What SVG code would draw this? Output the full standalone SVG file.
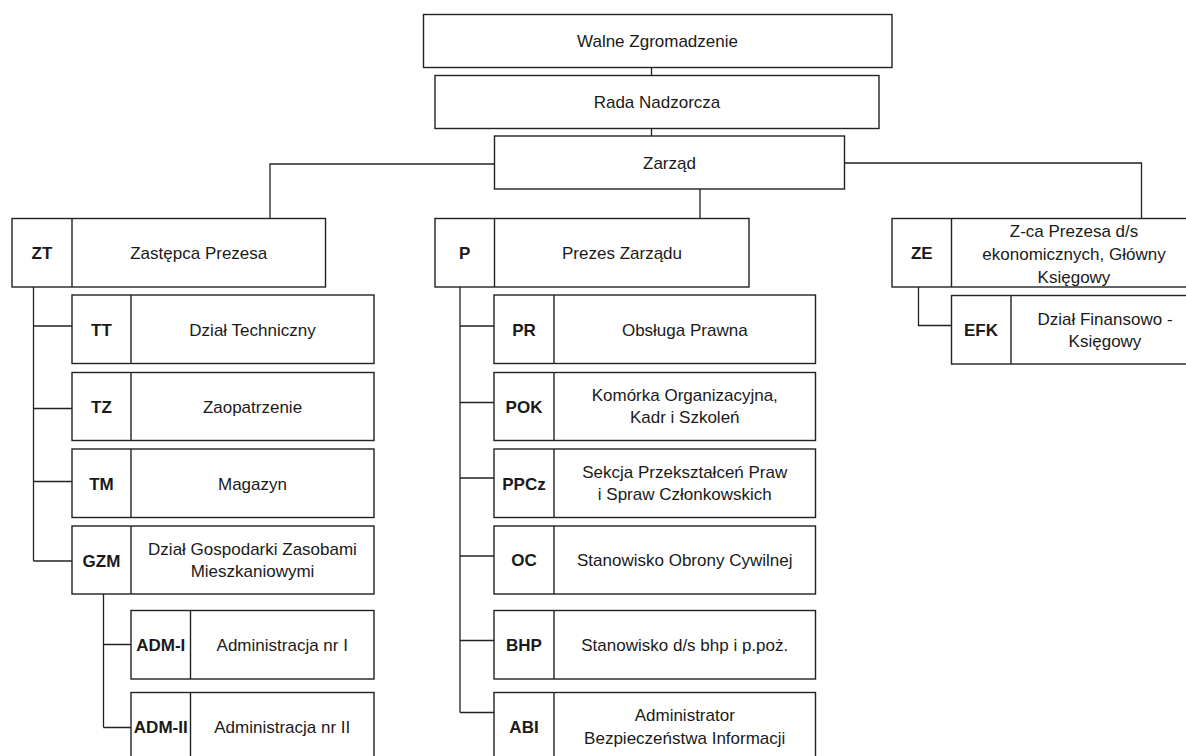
<svg xmlns="http://www.w3.org/2000/svg" width="1186" height="756" viewBox="0 0 1186 756">
<style>
.b{fill:#fff;stroke:#222;stroke-width:1.4}
.d{stroke:#222;stroke-width:1.4}
.c{fill:none;stroke:#222;stroke-width:1.3}
text{font-family:"Liberation Sans",Arial,sans-serif;font-size:17px;fill:#1a1a1a;text-anchor:middle}
.k{font-weight:bold}
</style>
<rect width="1186" height="756" fill="#fff"/>
<g id="connectors">
<path class="c" d="M651.5 67.5V75.5M651.5 128.5V136"/>
<path class="c" d="M494.5 164H270V218.5"/>
<path class="c" d="M700 189V218.5"/>
<path class="c" d="M844.5 163H1141.5V218.5"/>
<path class="c" d="M33.5 287V561M33.5 326H72M33.5 408.5H72M33.5 481.5H72M33.5 561H72"/>
<path class="c" d="M103.5 594V727.5M103.5 644.5H131M103.5 727.5H131"/>
<path class="c" d="M460 287V712.5M460 326H494M460 402.5H494M460 478H494M460 556H494M460 640.5H494M460 712.5H494"/>
<path class="c" d="M918.5 287V325.5H951.5"/>
</g>
<g id="walne"><rect class="b" x="423.5" y="14.5" width="468.5" height="53"/><text x="657.5" y="47">Walne Zgromadzenie</text></g>
<g id="rada"><rect class="b" x="435" y="75.5" width="444" height="53"/><text x="657" y="108">Rada Nadzorcza</text></g>
<g id="zarzad"><rect class="b" x="494.5" y="136" width="350" height="53"/><text x="669.5" y="168.5">Zarząd</text></g>
<g id="ZT"><rect class="b" x="12" y="218.5" width="313.5" height="68.5"/><line class="d" x1="72" y1="218.5" x2="72" y2="287"/><text class="k" x="42" y="259">ZT</text><text x="198.75" y="259">Zastępca Prezesa</text></g>
<g id="P"><rect class="b" x="435" y="218.5" width="314" height="68.5"/><line class="d" x1="494.5" y1="218.5" x2="494.5" y2="287"/><text class="k" x="464.75" y="259">P</text><text x="622" y="259">Prezes Zarządu</text></g>
<g id="ZE"><rect class="b" x="892" y="218.5" width="305" height="68.5"/><line class="d" x1="951.5" y1="218.5" x2="951.5" y2="287"/><text class="k" x="921.75" y="259">ZE</text><text x="1074" y="237">Z-ca Prezesa d/s</text><text x="1074" y="260">ekonomicznych, Główny</text><text x="1074" y="283">Księgowy</text></g>
<g id="TT"><rect class="b" x="72" y="295" width="302" height="68.5"/><line class="d" x1="131" y1="295" x2="131" y2="363.5"/><text class="k" x="101.5" y="335.5">TT</text><text x="252.5" y="335.5">Dział Techniczny</text></g>
<g id="TZ"><rect class="b" x="72" y="372.5" width="302" height="68"/><line class="d" x1="131" y1="372.5" x2="131" y2="440.5"/><text class="k" x="101.5" y="412.5">TZ</text><text x="252.5" y="412.5">Zaopatrzenie</text></g>
<g id="TM"><rect class="b" x="72" y="449" width="302" height="68.5"/><line class="d" x1="131" y1="449" x2="131" y2="517.5"/><text class="k" x="101.5" y="489.5">TM</text><text x="252.5" y="489.5">Magazyn</text></g>
<g id="GZM"><rect class="b" x="72" y="526" width="302" height="68"/><line class="d" x1="131" y1="526" x2="131" y2="594"/><text class="k" x="101.5" y="566.5">GZM</text><text x="252.5" y="554.5">Dział Gospodarki Zasobami</text><text x="252.5" y="577">Mieszkaniowymi</text></g>
<g id="ADM-I"><rect class="b" x="131" y="610.5" width="243" height="68.5"/><line class="d" x1="190.5" y1="610.5" x2="190.5" y2="679"/><text class="k" x="160.75" y="650.5">ADM-I</text><text x="282.25" y="650.5">Administracja nr I</text></g>
<g id="ADM-II"><rect class="b" x="131" y="692.5" width="243" height="68.5"/><line class="d" x1="190.5" y1="692.5" x2="190.5" y2="761"/><text class="k" x="160.75" y="733">ADM-II</text><text x="282.25" y="733">Administracja nr II</text></g>
<g id="PR"><rect class="b" x="494" y="295" width="321.5" height="68.5"/><line class="d" x1="554" y1="295" x2="554" y2="363.5"/><text class="k" x="524" y="335.5">PR</text><text x="684.75" y="335.5">Obsługa Prawna</text></g>
<g id="POK"><rect class="b" x="494" y="372.5" width="321.5" height="68"/><line class="d" x1="554" y1="372.5" x2="554" y2="440.5"/><text class="k" x="524" y="412.5">POK</text><text x="684.75" y="401">Komórka Organizacyjna,</text><text x="684.75" y="423">Kadr i Szkoleń</text></g>
<g id="PPCz"><rect class="b" x="494" y="449" width="321.5" height="68.5"/><line class="d" x1="554" y1="449" x2="554" y2="517.5"/><text class="k" x="524" y="489.5">PPCz</text><text x="684.75" y="477.5">Sekcja Przekształceń Praw</text><text x="684.75" y="499.5">i Spraw Członkowskich</text></g>
<g id="OC"><rect class="b" x="494" y="526" width="321.5" height="68"/><line class="d" x1="554" y1="526" x2="554" y2="594"/><text class="k" x="524" y="566">OC</text><text x="684.75" y="566">Stanowisko Obrony Cywilnej</text></g>
<g id="BHP"><rect class="b" x="494" y="610.5" width="321.5" height="68.5"/><line class="d" x1="554" y1="610.5" x2="554" y2="679"/><text class="k" x="524" y="650.5">BHP</text><text x="684.75" y="650.5">Stanowisko d/s bhp i p.poż.</text></g>
<g id="ABI"><rect class="b" x="494" y="692.5" width="321.5" height="68.5"/><line class="d" x1="554" y1="692.5" x2="554" y2="761"/><text class="k" x="524" y="733">ABI</text><text x="684.75" y="721">Administrator</text><text x="684.75" y="743.5">Bezpieczeństwa Informacji</text></g>
<g id="EFK"><rect class="b" x="951.5" y="295.5" width="248" height="68.5"/><line class="d" x1="1011" y1="295.5" x2="1011" y2="364"/><text class="k" x="981" y="336">EFK</text><text x="1105" y="325">Dział Finansowo -</text><text x="1105" y="347">Księgowy</text></g>
</svg>
